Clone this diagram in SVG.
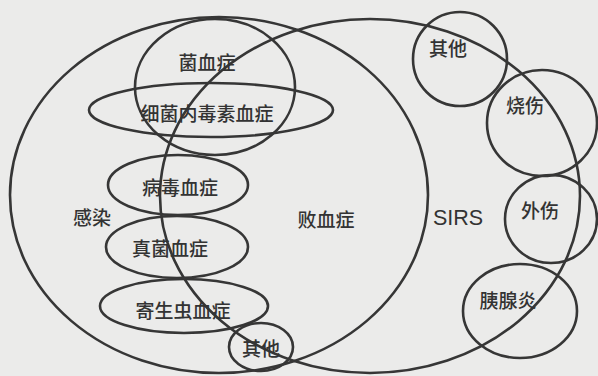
<svg xmlns="http://www.w3.org/2000/svg" width="598" height="376" viewBox="0 0 598 376">
<style>
.s{fill:none;stroke:#363636;stroke-width:2.6}
.t{font-family:"Noto Sans CJK SC","Noto Sans",sans-serif;font-size:19px;font-weight:500;fill:#333;text-anchor:middle;dominant-baseline:central}
.l{font-family:"Liberation Sans",Arial,sans-serif;font-size:21.5px;fill:#333;text-anchor:middle;dominant-baseline:central}
</style>
<rect width="598" height="376" fill="#ebebea"/>
<g id="infection"><ellipse class="s" cx="219" cy="195" rx="209" ry="178"/><text class="t" x="92" y="216">感染</text></g>
<g id="sirs"><ellipse class="s" cx="370" cy="196" rx="210" ry="177"/><text class="l" x="458" y="218">SIRS</text></g>
<g id="sepsis"><text class="t" x="326" y="218">败血症</text></g>
<g id="bacteremia"><ellipse class="s" cx="215" cy="87" rx="80" ry="68"/><text class="t" x="207" y="61">菌血症</text></g>
<g id="endotoxemia"><ellipse class="s" cx="211" cy="110" rx="122" ry="27"/><text class="t" x="207" y="112">细菌内毒素血症</text></g>
<g id="viremia"><ellipse class="s" cx="178" cy="185" rx="70" ry="30"/><text class="t" x="180" y="186">病毒血症</text></g>
<g id="fungemia"><ellipse class="s" cx="177" cy="247" rx="71" ry="31"/><text class="t" x="170" y="247">真菌血症</text></g>
<g id="parasitemia"><ellipse class="s" cx="184" cy="306" rx="84" ry="27"/><text class="t" x="183" y="309">寄生虫血症</text></g>
<g id="other-bottom"><ellipse class="s" cx="261" cy="347" rx="32" ry="24"/><text class="t" x="261" y="347">其他</text></g>
<g id="other-top"><ellipse class="s" cx="460" cy="59" rx="47" ry="47"/><text class="t" x="448" y="47">其他</text></g>
<g id="burn"><ellipse class="s" cx="542" cy="123" rx="55" ry="53"/><text class="t" x="525" y="104">烧伤</text></g>
<g id="trauma"><ellipse class="s" cx="551" cy="219" rx="46" ry="44"/><text class="t" x="540" y="209">外伤</text></g>
<g id="pancreatitis"><ellipse class="s" cx="520" cy="311" rx="57" ry="47"/><text class="t" x="508" y="299">胰腺炎</text></g>
<g id="connectors"></g>
</svg>
